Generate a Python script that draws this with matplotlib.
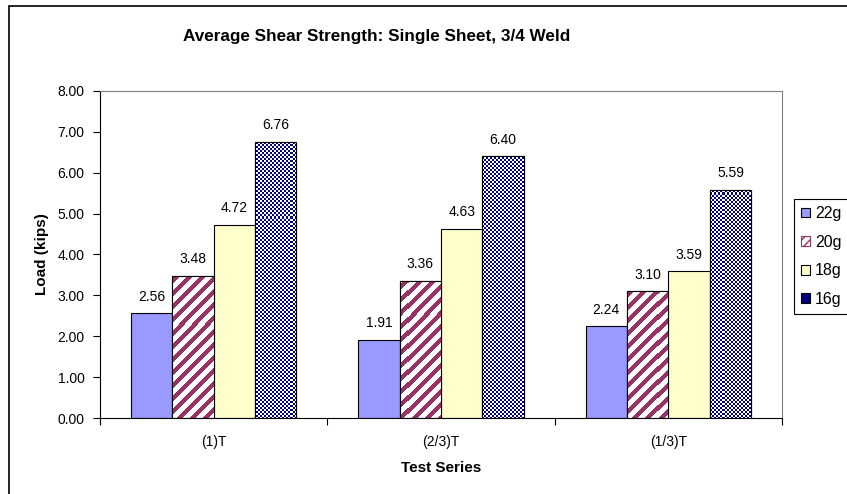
import numpy as np
import matplotlib
matplotlib.use("Agg")
import matplotlib.pyplot as plt
from matplotlib.patches import Patch, Rectangle

plt.rcParams['font.family'] = ['Liberation Sans', 'DejaVu Sans']

categories = ['(1)T', '(2/3)T', '(1/3)T']
series = ['22g', '20g', '18g', '16g']
g22 = [2.56, 1.91, 2.24]
g20 = [3.48, 3.36, 3.10]
g18 = [4.72, 4.63, 3.59]
g16 = [6.76, 6.40, 5.59]

values = [g22, g20, g18, g16]
faces = ['#9999FF', 'white', '#FFFFCC', 'white']
patterns = [None, 'stripes', None, 'checker']
maroon = '#993366'
navy = '#000080'

fig = plt.figure(figsize=(8.47, 4.94), dpi=100)
ax = fig.add_axes([100 / 847, 76 / 494, 682 / 847, 327 / 494])

# pixel textures for the patterned bars
bb = ax.get_window_extent()
W, H = int(round(bb.width)), int(round(bb.height))
rows, cols = np.indices((H, W))

def texture(kind):
    img = np.ones((H, W, 4))
    if kind == 'stripes':
        mask = ((rows + cols) % 13) < 6
        img[mask, :3] = matplotlib.colors.to_rgb(maroon)
    else:
        mask = ((rows // 2 + cols // 2) % 2) == 0
        img[mask, :3] = matplotlib.colors.to_rgb(navy)
    return img

x = np.arange(len(categories))
w = 0.182
for k, vals in enumerate(values):
    pos = x + (k - 1.5) * w
    bars = ax.bar(pos, vals, w, color=faces[k], edgecolor='black', linewidth=0.8, zorder=2)
    if patterns[k]:
        tex = texture(patterns[k])
        for b in bars:
            im = ax.imshow(tex, extent=(0, 1, 0, 1), transform=ax.transAxes,
                           interpolation='nearest', aspect='auto', zorder=2.5)
            im.set_clip_path(b)
        ax.bar(pos, vals, w, fill=False, edgecolor='black', linewidth=0.8, zorder=3)
    for px, v in zip(pos, vals):
        ax.annotate(f'{v:.2f}', (px, v), xytext=(0, 7), textcoords='offset points',
                    ha='center', va='bottom', fontsize=10)

ax.set_xlim(-0.5, 2.5)
ax.set_ylim(0, 8)
ax.set_yticks(np.arange(0, 9, 1))
ax.set_yticklabels([f'{t:.2f}' for t in range(9)])
ax.set_xticks(x)
ax.set_xticklabels(categories)
ax.set_xticks([-0.5, 0.5, 1.5, 2.5], minor=True)
ax.tick_params(axis='x', which='major', length=0, pad=12, labelsize=10)
ax.tick_params(axis='x', which='minor', length=5, width=0.8)
ax.tick_params(axis='y', length=5, width=0.8, pad=6, labelsize=10)

for s in ['top', 'right']:
    ax.spines[s].set_color('#808080')
ax.spines['left'].set_color('black')
ax.spines['bottom'].set_color('black')

ax.set_xlabel('Test Series', fontsize=11, fontweight='bold', labelpad=9)
ax.set_ylabel('Load (kips)', fontsize=11, fontweight='bold', labelpad=6)
fig.text(377 / 847, 1 - 37 / 494, 'Average Shear Strength: Single Sheet, 3/4 Weld',
         ha='center', va='center', fontsize=12.3, fontweight='bold')

# outer chart border (cropped on right and bottom)
fig.patches.append(Rectangle((9 / 847, -0.1), 1.2, 1.1 - 6 / 494, transform=fig.transFigure,
                             fill=False, edgecolor='black', linewidth=1.2))

handles = [
    Patch(facecolor='#9999FF', edgecolor='black', linewidth=0.8),
    Patch(facecolor='white', edgecolor=maroon, hatch='////', linewidth=0.8),
    Patch(facecolor='#FFFFCC', edgecolor='black', linewidth=0.8),
    Patch(facecolor=navy, edgecolor='black', linewidth=0.8),
]
leg = fig.legend(handles, series, loc='upper left', bbox_to_anchor=(794 / 847, 1 - 199 / 494),
                 borderaxespad=0, fontsize=11.5, handlelength=0.55, handleheight=0.55,
                 handletextpad=0.3, labelspacing=0.85, borderpad=0.45, fancybox=False,
                 framealpha=1, edgecolor='black')
leg.get_frame().set_linewidth(0.8)

fig.savefig('out.png', dpi=100)
